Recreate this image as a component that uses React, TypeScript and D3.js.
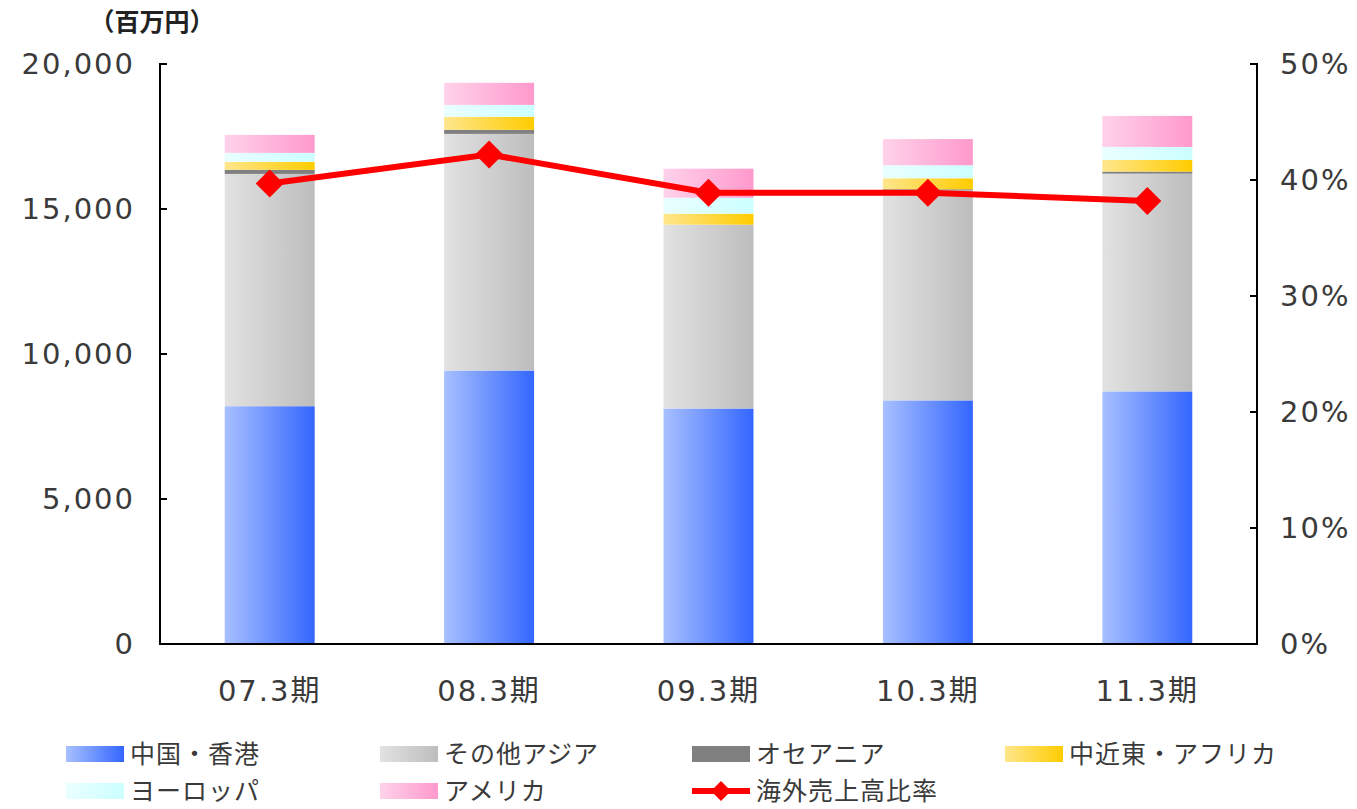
import * as d3 from "d3";

const periods = ["07.3期", "08.3期", "09.3期", "10.3期", "11.3期"];
const chinaHK = [8200, 9430, 8120, 8400, 8710];
const otherAsia = [8010, 8160, 6340, 7240, 7510];
const oceania = [140, 140, 0, 40, 70];
const midEastAfrica = [275, 450, 380, 380, 400];
const europe = [310, 410, 550, 450, 450];
const america = [620, 760, 1000, 900, 1070];
const overseasRatio = [39.7, 42.2, 38.9, 38.9, 38.2];

const leftTicks = [0, 5000, 10000, 15000, 20000];
const rightTicks = [0, 10, 20, 30, 40, 50];

const seriesNames = ["中国・香港", "その他アジア", "オセアニア", "中近東・アフリカ", "ヨーロッパ", "アメリカ"];
const lineName = "海外売上高比率";

const W = 1357;
const H = 809;
const m = { left: 160, right: 1257, top: 64, bottom: 644 };
const FONT = "'Noto Sans CJK JP', 'Noto Sans', sans-serif";
const NUMFONT = "'DejaVu Sans', 'Noto Sans CJK JP', sans-serif";
const TEXT = "#3a3a3a";

const fills = [
  ["#a8c0ff", "#3366ff"],
  ["#e2e2e2", "#bdbdbd"],
  ["#808080", "#808080"],
  ["#ffe68c", "#ffcc00"],
  ["#eaffff", "#ccffff"],
  ["#ffd2ea", "#ff99cc"],
];

export default function App() {
  const series = [chinaHK, otherAsia, oceania, midEastAfrica, europe, america];
  const rows = periods.map((p, i) => {
    const r: Record<string, number | string> = { period: p };
    series.forEach((s, k) => (r["s" + k] = s[i]));
    return r;
  });
  const stacked = d3.stack<Record<string, number | string>>().keys(series.map((_, k) => "s" + k))(rows as any);

  const x = d3.scaleBand().domain(periods).range([m.left, m.right]).paddingInner(0.59).paddingOuter(0.295);
  const y = d3.scaleLinear().domain([0, 20000]).range([m.bottom, m.top]);
  const y2 = d3.scaleLinear().domain([0, 50]).range([m.bottom, m.top]);
  const fmt = d3.format(",");

  const line = d3
    .line<number>()
    .x((_, i) => (x(periods[i]) as number) + x.bandwidth() / 2)
    .y((d) => y2(d));

  const diamond = (cx: number, cy: number, r: number) =>
    `M${cx},${cy - r}L${cx + r},${cy}L${cx},${cy + r}L${cx - r},${cy}Z`;

  const legendItems = [
    { col: 0, row: 0, k: 0 },
    { col: 1, row: 0, k: 1 },
    { col: 2, row: 0, k: 2 },
    { col: 3, row: 0, k: 3 },
    { col: 0, row: 1, k: 4 },
    { col: 1, row: 1, k: 5 },
  ];
  const legX = [66, 380, 692, 1005];
  const legY = [754, 791];

  return (
    <svg width={W} height={H} style={{ position: "absolute", left: 0, top: 0, background: "#fff" }} fontFamily={FONT}>
      <defs>
        {fills.map((f, k) => (
          <linearGradient key={k} id={"g" + k} x1="0" x2="1" y1="0" y2="0">
            <stop offset="0%" stopColor={f[0]} />
            <stop offset="100%" stopColor={f[1]} />
          </linearGradient>
        ))}
      </defs>

      <text x={152} y={31} textAnchor="middle" fontSize={25} fontWeight="bold" fill="#222">
        （百万円）
      </text>

      {stacked.map((layer, k) =>
        layer.map((d, i) => (
          <rect
            key={k + "-" + i}
            x={x(periods[i])}
            width={x.bandwidth()}
            y={y(d[1])}
            height={Math.max(0, y(d[0]) - y(d[1]))}
            fill={`url(#g${k})`}
          />
        ))
      )}

      {/* axes */}
      <path d={`M${m.left + 7},${m.top}H${m.left}V${m.bottom}H${m.right}V${m.top}H${m.right - 7}`} fill="none" stroke="#000" strokeWidth={2} />
      {leftTicks.map((t) => (
        <g key={"l" + t}>
          <line x1={m.left} x2={m.left + 7} y1={y(t)} y2={y(t)} stroke="#000" strokeWidth={2} />
          <text x={135} y={y(t)} dy="0.36em" textAnchor="end" fontSize={29} fill={TEXT} fontFamily={NUMFONT} letterSpacing={2}>
            {fmt(t)}
          </text>
        </g>
      ))}
      {rightTicks.map((t) => (
        <g key={"r" + t}>
          <line x1={m.right - 7} x2={m.right} y1={y2(t)} y2={y2(t)} stroke="#000" strokeWidth={2} />
          <text x={1280} y={y2(t)} dy="0.36em" textAnchor="start" fontSize={29} fill={TEXT} fontFamily={NUMFONT} letterSpacing={2}>
            {t}%
          </text>
        </g>
      ))}
      {periods.map((p) => (
        <text key={p} x={(x(p) as number) + x.bandwidth() / 2} y={691} dy="0.36em" textAnchor="middle" fontSize={29} fill={TEXT} fontFamily={NUMFONT} letterSpacing={2}>
          {p}
        </text>
      ))}

      <path d={line(overseasRatio) || ""} fill="none" stroke="#ff0000" strokeWidth={6} />
      {overseasRatio.map((v, i) => (
        <path key={i} d={diamond((x(periods[i]) as number) + x.bandwidth() / 2, y2(v), 14)} fill="#ff0000" />
      ))}

      {/* legend */}
      {legendItems.map((it) => (
        <g key={"leg" + it.k}>
          <rect x={legX[it.col]} y={legY[it.row] - 8} width={58} height={16} fill={`url(#g${it.k})`} />
          <text x={legX[it.col] + 64} y={legY[it.row]} dy="0.36em" fontSize={25} fill={TEXT} letterSpacing={1}>
            {seriesNames[it.k]}
          </text>
        </g>
      ))}
      <g>
        <line x1={legX[2]} x2={legX[2] + 58} y1={legY[1]} y2={legY[1]} stroke="#ff0000" strokeWidth={6} />
        <path d={diamond(legX[2] + 29, legY[1], 10)} fill="#ff0000" />
        <text x={legX[2] + 64} y={legY[1]} dy="0.36em" fontSize={25} fill={TEXT} letterSpacing={1}>
          {lineName}
        </text>
      </g>
    </svg>
  );
}
